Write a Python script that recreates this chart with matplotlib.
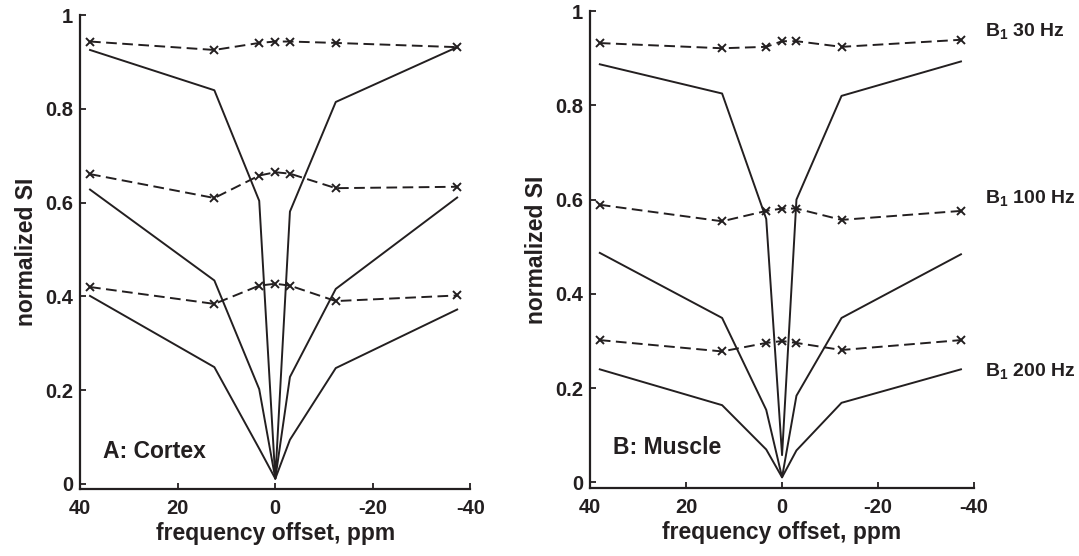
import numpy as np
import matplotlib
matplotlib.use('Agg')
import matplotlib.pyplot as plt

# fonts: bold Arial-like text everywhere
plt.rcParams['font.family'] = ['Liberation Sans', 'DejaVu Sans']
plt.rcParams['font.weight'] = 'bold'
plt.rcParams['axes.labelweight'] = 'bold'
plt.rcParams['axes.unicode_minus'] = False
plt.rcParams['mathtext.fontset'] = 'custom'
plt.rcParams['mathtext.rm'] = 'Liberation Sans:bold'
plt.rcParams['mathtext.it'] = 'Liberation Sans:bold'
plt.rcParams['mathtext.bf'] = 'Liberation Sans:bold'
plt.rcParams['mathtext.default'] = 'rm'

ink = '#231f20'

# frequency offsets (ppm)
offsets = [38.0, 12.5, 3.3, 0.0, -3.0, -12.4, -37.3]

# A: cortex -- dashed (with x markers) and solid curves for each B1
cortex_dash_30 = [0.944, 0.926, 0.941, 0.944, 0.944, 0.941, 0.932]
cortex_solid_30 = [0.926, 0.840, 0.604, 0.011, 0.581, 0.815, 0.932]
cortex_dash_100 = [0.661, 0.610, 0.658, 0.665, 0.662, 0.631, 0.634]
cortex_solid_100 = [0.628, 0.434, 0.202, 0.011, 0.228, 0.416, 0.611]
cortex_dash_200 = [0.420, 0.384, 0.423, 0.427, 0.423, 0.390, 0.402]
cortex_solid_200 = [0.401, 0.249, 0.075, 0.011, 0.094, 0.247, 0.372]

# B: muscle
muscle_dash_30 = [0.932, 0.921, 0.924, 0.936, 0.936, 0.924, 0.939]
muscle_solid_30 = [0.887, 0.825, 0.559, 0.058, 0.600, 0.820, 0.893]
muscle_dash_100 = [0.589, 0.554, 0.576, 0.581, 0.581, 0.557, 0.576]
muscle_solid_100 = [0.487, 0.349, 0.154, 0.011, 0.184, 0.349, 0.484]
muscle_dash_200 = [0.302, 0.278, 0.296, 0.300, 0.296, 0.281, 0.302]
muscle_solid_200 = [0.240, 0.164, 0.070, 0.011, 0.068, 0.169, 0.240]

xticks = [40, 20, 0, -20, -40]
xticklabels = ['40', '20', '0', '-20', '-40']
yticks = [0, 0.2, 0.4, 0.6, 0.8, 1]
yticklabels = ['0', '0.2', '0.4', '0.6', '0.8', '1']

b1_labels = ['B$_1$ 30 Hz', 'B$_1$ 100 Hz', 'B$_1$ 200 Hz']
b1_label_y = [0.946, 0.592, 0.225]


def draw_panel(ax, dashed, solid, tag, tag_y):
    for d in dashed:
        ax.plot(offsets, d, color=ink, lw=1.4, dashes=(5.5, 2.8),
                marker='x', ms=5.5, mew=1.4)
    for s in solid:
        ax.plot(offsets, s, color=ink, lw=1.4)
    ax.set_xlim(40, -40)
    ax.set_ylim(-0.0117, 1)
    ax.set_xticks(xticks)
    ax.set_xticklabels(xticklabels)
    ax.set_yticks(yticks)
    ax.set_yticklabels(yticklabels)
    for side in ['top', 'right']:
        ax.spines[side].set_visible(False)
    for side in ['left', 'bottom']:
        ax.spines[side].set_linewidth(1.6)
        ax.spines[side].set_color(ink)
    ax.tick_params(axis='both', direction='in', length=4, width=1.3,
                   colors=ink, labelsize=14.5)
    ax.tick_params(axis='x', pad=7)
    ax.tick_params(axis='y', pad=5)
    ax.set_xlabel('frequency offset, ppm', fontsize=16.5, fontweight='bold',
                  labelpad=3, color=ink)
    ax.set_ylabel('normalized SI', fontsize=16.5, fontweight='bold',
                  labelpad=5, color=ink)
    ax.text(35.3, tag_y, tag, fontsize=16.5, fontweight='bold',
            ha='left', va='center', color=ink)


fig = plt.figure(figsize=(10.79, 5.56), dpi=100)
ax1 = fig.add_axes([0.0744, 0.12, 0.3615, 0.8525])
ax2 = fig.add_axes([0.547, 0.1223, 0.3556, 0.8579])

draw_panel(ax1, [cortex_dash_30, cortex_dash_100, cortex_dash_200],
           [cortex_solid_30, cortex_solid_100, cortex_solid_200],
           'A: Cortex', 0.0685)
draw_panel(ax2, [muscle_dash_30, muscle_dash_100, muscle_dash_200],
           [muscle_solid_30, muscle_solid_100, muscle_solid_200],
           'B: Muscle', 0.074)

for lab, yy in zip(b1_labels, b1_label_y):
    ax2.text(1.029, yy, lab, transform=ax2.get_yaxis_transform(),
             fontsize=14, fontweight='bold', ha='left', va='baseline',
             color=ink, clip_on=False)

fig.savefig('out.png', dpi=100)
